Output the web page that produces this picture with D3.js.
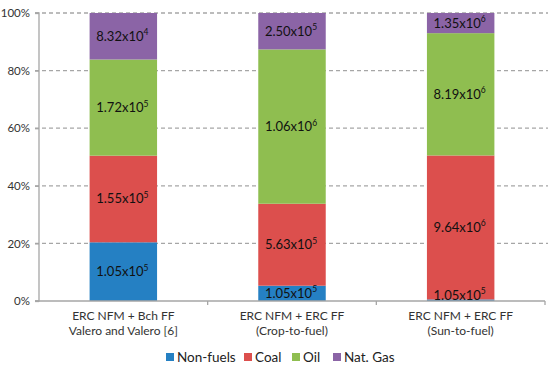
<!DOCTYPE html>
<html><head><meta charset="utf-8">
<script src="https://cdn.jsdelivr.net/npm/d3@7"></script>
<style>body{margin:0;background:#fff}svg{display:block}text{font-family:Lato,"Open Sans",sans-serif}</style>
</head><body><svg id="c" width="550" height="370"></svg>
<script>
const categories = [
  ["ERC NFM + Bch FF", "Valero and Valero [6]"],
  ["ERC NFM + ERC FF", "(Crop-to-fuel)"],
  ["ERC NFM + ERC FF", "(Sun-to-fuel)"]
];
const seriesNames = ["Non-fuels", "Coal", "Oil", "Nat. Gas"];
const nonFuels = [1.05e5, 1.05e5, 1.05e5];
const coal = [1.55e5, 5.63e5, 9.64e6];
const oil = [1.72e5, 1.06e6, 8.19e6];
const natGas = [8.32e4, 2.50e5, 1.35e6];
const yTicks = [0, 0.2, 0.4, 0.6, 0.8, 1.0];
const colors = ["#2580c3", "#dc4f4d", "#8fbe50", "#8b64a6"];

const svg = d3.select("#c");
const x0 = 39, x1 = 545, yTop = 13, yBot = 301;

const rows = categories.map((c, i) => ({i, "Non-fuels": nonFuels[i], "Coal": coal[i], "Oil": oil[i], "Nat. Gas": natGas[i]}));
const stack = d3.stack().keys(seriesNames).offset(d3.stackOffsetExpand)(rows);

const x = d3.scaleBand().domain(rows.map(d => d.i)).range([x0, x1]).padding(0);
const y = d3.scaleLinear().domain([0, 1]).range([yBot, yTop]);
const bw = x.bandwidth() * 0.4;

// gridlines
svg.append("g").selectAll("line").data(yTicks.filter(t => t > 0)).join("line")
  .attr("x1", x0 - 4).attr("x2", 548).attr("y1", d => y(d)).attr("y2", d => y(d))
  .attr("stroke", "#a6a6a6").attr("stroke-width", 1.3).attr("stroke-dasharray", "4,3");

// y axis
const yAxis = d3.axisLeft(y).tickValues(yTicks).tickFormat(d3.format(".0%")).tickSize(4);
const ga = svg.append("g").attr("transform", `translate(${x0},0)`).call(yAxis);
ga.select(".domain").attr("stroke", "#a6a6a6").attr("stroke-width", 1.3).attr("d", `M-4,${yTop}H0V${yBot}H-4`);
ga.selectAll(".tick line").attr("stroke", "#a6a6a6").attr("stroke-width", 1.3);
ga.selectAll(".tick text").attr("font-family", "Lato, sans-serif").attr("font-size", 11.5).attr("fill", "#333").attr("x", -9);

// bars
const layers = svg.append("g").selectAll("g").data(stack).join("g").attr("fill", (d, i) => colors[i]);
layers.selectAll("rect").data(d => d).join("rect")
  .attr("x", d => x(d.data.i) + (x.bandwidth() - bw) / 2)
  .attr("width", bw)
  .attr("y", d => y(d[1]))
  .attr("height", d => y(d[0]) - y(d[1]));

// labels
function fmt(v) { const e = Math.floor(Math.log10(v)); return [(v / Math.pow(10, e)).toFixed(2), e]; }
stack.forEach((layer, si) => {
  layer.forEach(d => {
    const v = d.data[layer.key];
    const [mant, e] = fmt(v);
    let cy = (y(d[0]) + y(d[1])) / 2;
    cy = Math.min(cy, yBot - 6);
    const t = svg.append("text").attr("x", x(d.data.i) + x.bandwidth() / 2 - 1).attr("y", cy + 4.5)
      .attr("text-anchor", "middle").attr("font-size", 13).attr("fill", "#111");
    t.append("tspan").text(mant + "x10");
    t.append("tspan").text(e).attr("font-size", 8.5).attr("dy", -5.5);
  });
});

// x axis baseline
const xAxis = d3.axisBottom(x).tickSize(0).tickFormat("");
const gx = svg.append("g").attr("transform", `translate(0,${yBot})`).call(xAxis);
gx.select(".domain").attr("stroke", "#a6a6a6").attr("stroke-width", 1.3).attr("d", `M${x0 - 4},0H${x1}`);
svg.append("g").selectAll("line").data(rows.map(d => d.i)).join("line")
  .attr("x1", d => x(d) + x.bandwidth()).attr("x2", d => x(d) + x.bandwidth())
  .attr("y1", yBot).attr("y2", yBot + 4).attr("stroke", "#a6a6a6").attr("stroke-width", 1.3);

// category labels
rows.forEach(d => {
  categories[d.i].forEach((line, li) => {
    svg.append("text").attr("x", x(d.i) + x.bandwidth() / 2).attr("y", 320 + li * 14.5)
      .attr("text-anchor", "middle").attr("font-size", 12).attr("fill", "#333").text(line);
  });
});

// legend
const legendX = [166, 244, 292, 333];
const lg = svg.append("g").selectAll("g").data(seriesNames).join("g")
  .attr("transform", (d, i) => `translate(${legendX[i]},357)`);
lg.append("rect").attr("x", 0).attr("y", -4).attr("width", 8).attr("height", 8).attr("fill", (d, i) => colors[i]);
lg.append("text").attr("x", 11).attr("y", 5).attr("font-size", 13.5).attr("fill", "#222").text(d => d);
</script></body></html>
